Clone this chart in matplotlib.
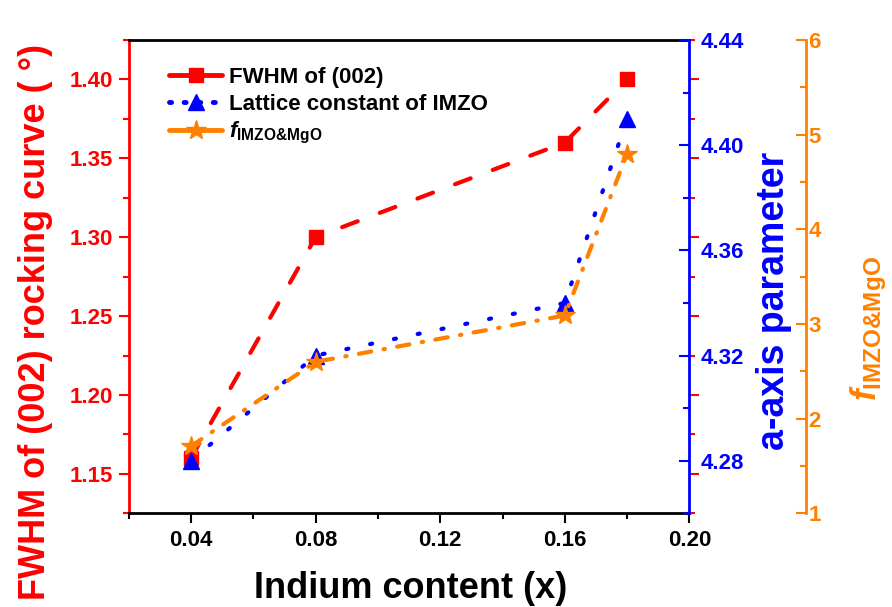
import matplotlib
matplotlib.use("Agg")
import matplotlib.pyplot as plt
from matplotlib.lines import Line2D
from matplotlib.ticker import MultipleLocator

plt.rcParams["font.family"] = ["Liberation Sans", "DejaVu Sans"]
plt.rcParams["font.weight"] = "bold"
plt.rcParams["mathtext.fontset"] = "custom"
plt.rcParams["mathtext.rm"] = "Liberation Sans:bold"
plt.rcParams["mathtext.bf"] = "Liberation Sans:bold"
plt.rcParams["mathtext.it"] = "Liberation Sans:italic:bold"
plt.rcParams["lines.scale_dashes"] = False

# data
indium = [0.04, 0.08, 0.16, 0.18]
fwhm = [1.16, 1.30, 1.36, 1.40]
lattice = [4.28, 4.32, 4.34, 4.41]
f_imzo = [1.71, 2.60, 3.09, 4.80]

RED = "#ff0000"
BLUE = "#0000ff"
ORANGE = "#ff8000"
F_LABEL = r"$f_{\mathrm{IMZO&MgO}}$"
TICK_FS = 16

fig = plt.figure(figsize=(8.92, 6.07), dpi=100)
ax = fig.add_axes([0.1443, 0.1543, 0.6286, 0.7798])
ax2 = ax.twinx()
ax3 = ax.twinx()

# ── lines ────────────────────────────────────────────────────────────────────
ax.plot(indium, fwhm, color=RED, lw=3, marker="s", ms=10,
        dashes=(12, 17), dash_capstyle="round")
ax2.plot(indium, lattice, color=BLUE, lw=3, marker="^", ms=12,
         dashes=(1.5, 16), dash_capstyle="round")
ax3.plot(indium, f_imzo, color=ORANGE, lw=3, marker="*", ms=15,
         dashes=(9, 9, 1, 9), dash_capstyle="round")

# ── x axis ───────────────────────────────────────────────────────────────────
ax.set_xlim(0.02, 0.20)
ax.xaxis.set_minor_locator(MultipleLocator(0.02))
ax.set_xticks([0.04, 0.08, 0.12, 0.16, 0.20])
ax.set_xticklabels(["0.04", "0.08", "0.12", "0.16", "0.20"])
ax.tick_params(axis="x", which="major", direction="out", length=7, width=1.5,
               labelsize=TICK_FS, pad=5)
ax.tick_params(axis="x", which="minor", direction="out", length=4, width=1.5)

# ── left (red) axis ──────────────────────────────────────────────────────────
ax.set_ylim(1.125, 1.425)
ax.yaxis.set_major_locator(MultipleLocator(0.05))
ax.yaxis.set_minor_locator(MultipleLocator(0.025))
ax.yaxis.set_major_formatter(plt.FormatStrFormatter("%.2f"))
ax.tick_params(axis="y", which="both", colors=RED, labelsize=TICK_FS, width=1.5, pad=4,
               right=True, direction="out")
ax.tick_params(axis="y", which="major", length=7)
ax.tick_params(axis="y", which="minor", length=4)
# mirrored ticks on the right spine take the blue colour
for t in ax.yaxis.get_ticklines(minor=False)[1::2] + ax.yaxis.get_ticklines(minor=True)[1::2]:
    t.set_color(BLUE)
ax.spines["left"].set_color(RED)
for s in ["left", "bottom", "top", "right"]:
    ax.spines[s].set_linewidth(2)
ax.spines["right"].set_visible(False)

# ── blue axis ────────────────────────────────────────────────────────────────
ax2.set_ylim(4.26, 4.44)
ax2.yaxis.set_major_locator(MultipleLocator(0.04))
ax2.yaxis.set_minor_locator(MultipleLocator(0.02))
ax2.yaxis.set_major_formatter(plt.FormatStrFormatter("%.2f"))
ax2.tick_params(axis="y", which="both", colors=BLUE, labelsize=TICK_FS, width=1.5,
                direction="in", pad=8)
ax2.tick_params(axis="y", which="major", length=7)
ax2.tick_params(axis="y", which="minor", length=4)
for s in ["left", "bottom", "top"]:
    ax2.spines[s].set_visible(False)
ax2.spines["right"].set_color(BLUE)
ax2.spines["right"].set_linewidth(2)

# ── orange axis ──────────────────────────────────────────────────────────────
ax3.set_ylim(1, 6)
ax3.spines["right"].set_position(("axes", 1.2074))
ax3.yaxis.set_major_locator(MultipleLocator(1))
ax3.yaxis.set_minor_locator(MultipleLocator(0.5))
ax3.tick_params(axis="y", which="both", colors=ORANGE, labelsize=TICK_FS, width=1.5,
                direction="in", pad=2)
ax3.tick_params(axis="y", which="major", length=7)
ax3.tick_params(axis="y", which="minor", length=4)
for s in ["left", "bottom", "top"]:
    ax3.spines[s].set_visible(False)
ax3.spines["right"].set_color(ORANGE)
ax3.spines["right"].set_linewidth(2)

# ── axis titles ──────────────────────────────────────────────────────────────
fig.text(0.46, 0.030, "Indium content (x)", fontsize=26, ha="center", va="center")
fig.text(0.040, 0.012, "FWHM of (002) rocking curve ( °)", color=RED, fontsize=26,
         rotation=90, ha="center", va="bottom")
fig.text(0.868, 0.505, "a-axis parameter", color=BLUE, fontsize=27,
         rotation=90, ha="center", va="center")
fig.text(0.974, 0.458, F_LABEL, color=ORANGE, fontsize=25,
         rotation=90, ha="center", va="center")

# ── legend (proxy handles: solid red/orange, dotted blue) ────────────────────
handles = [
    Line2D([], [], color=RED, lw=3.5, marker="s", ms=10, solid_capstyle="round"),
    Line2D([], [], color=BLUE, lw=3.5, marker="^", ms=12, dashes=(1.5, 9),
           dash_capstyle="round"),
    Line2D([], [], color=ORANGE, lw=3.5, marker="*", ms=15, solid_capstyle="round"),
]
labels = ["FWHM of (002)", "Lattice constant of IMZO", F_LABEL]
ax3.legend(handles, labels, loc="upper left", bbox_to_anchor=(0.072, 0.943),
           frameon=False, fontsize=16, handlelength=2.4, handletextpad=0.3,
           labelspacing=0.25, borderpad=0, borderaxespad=0)

fig.savefig("out.png", dpi=100)
